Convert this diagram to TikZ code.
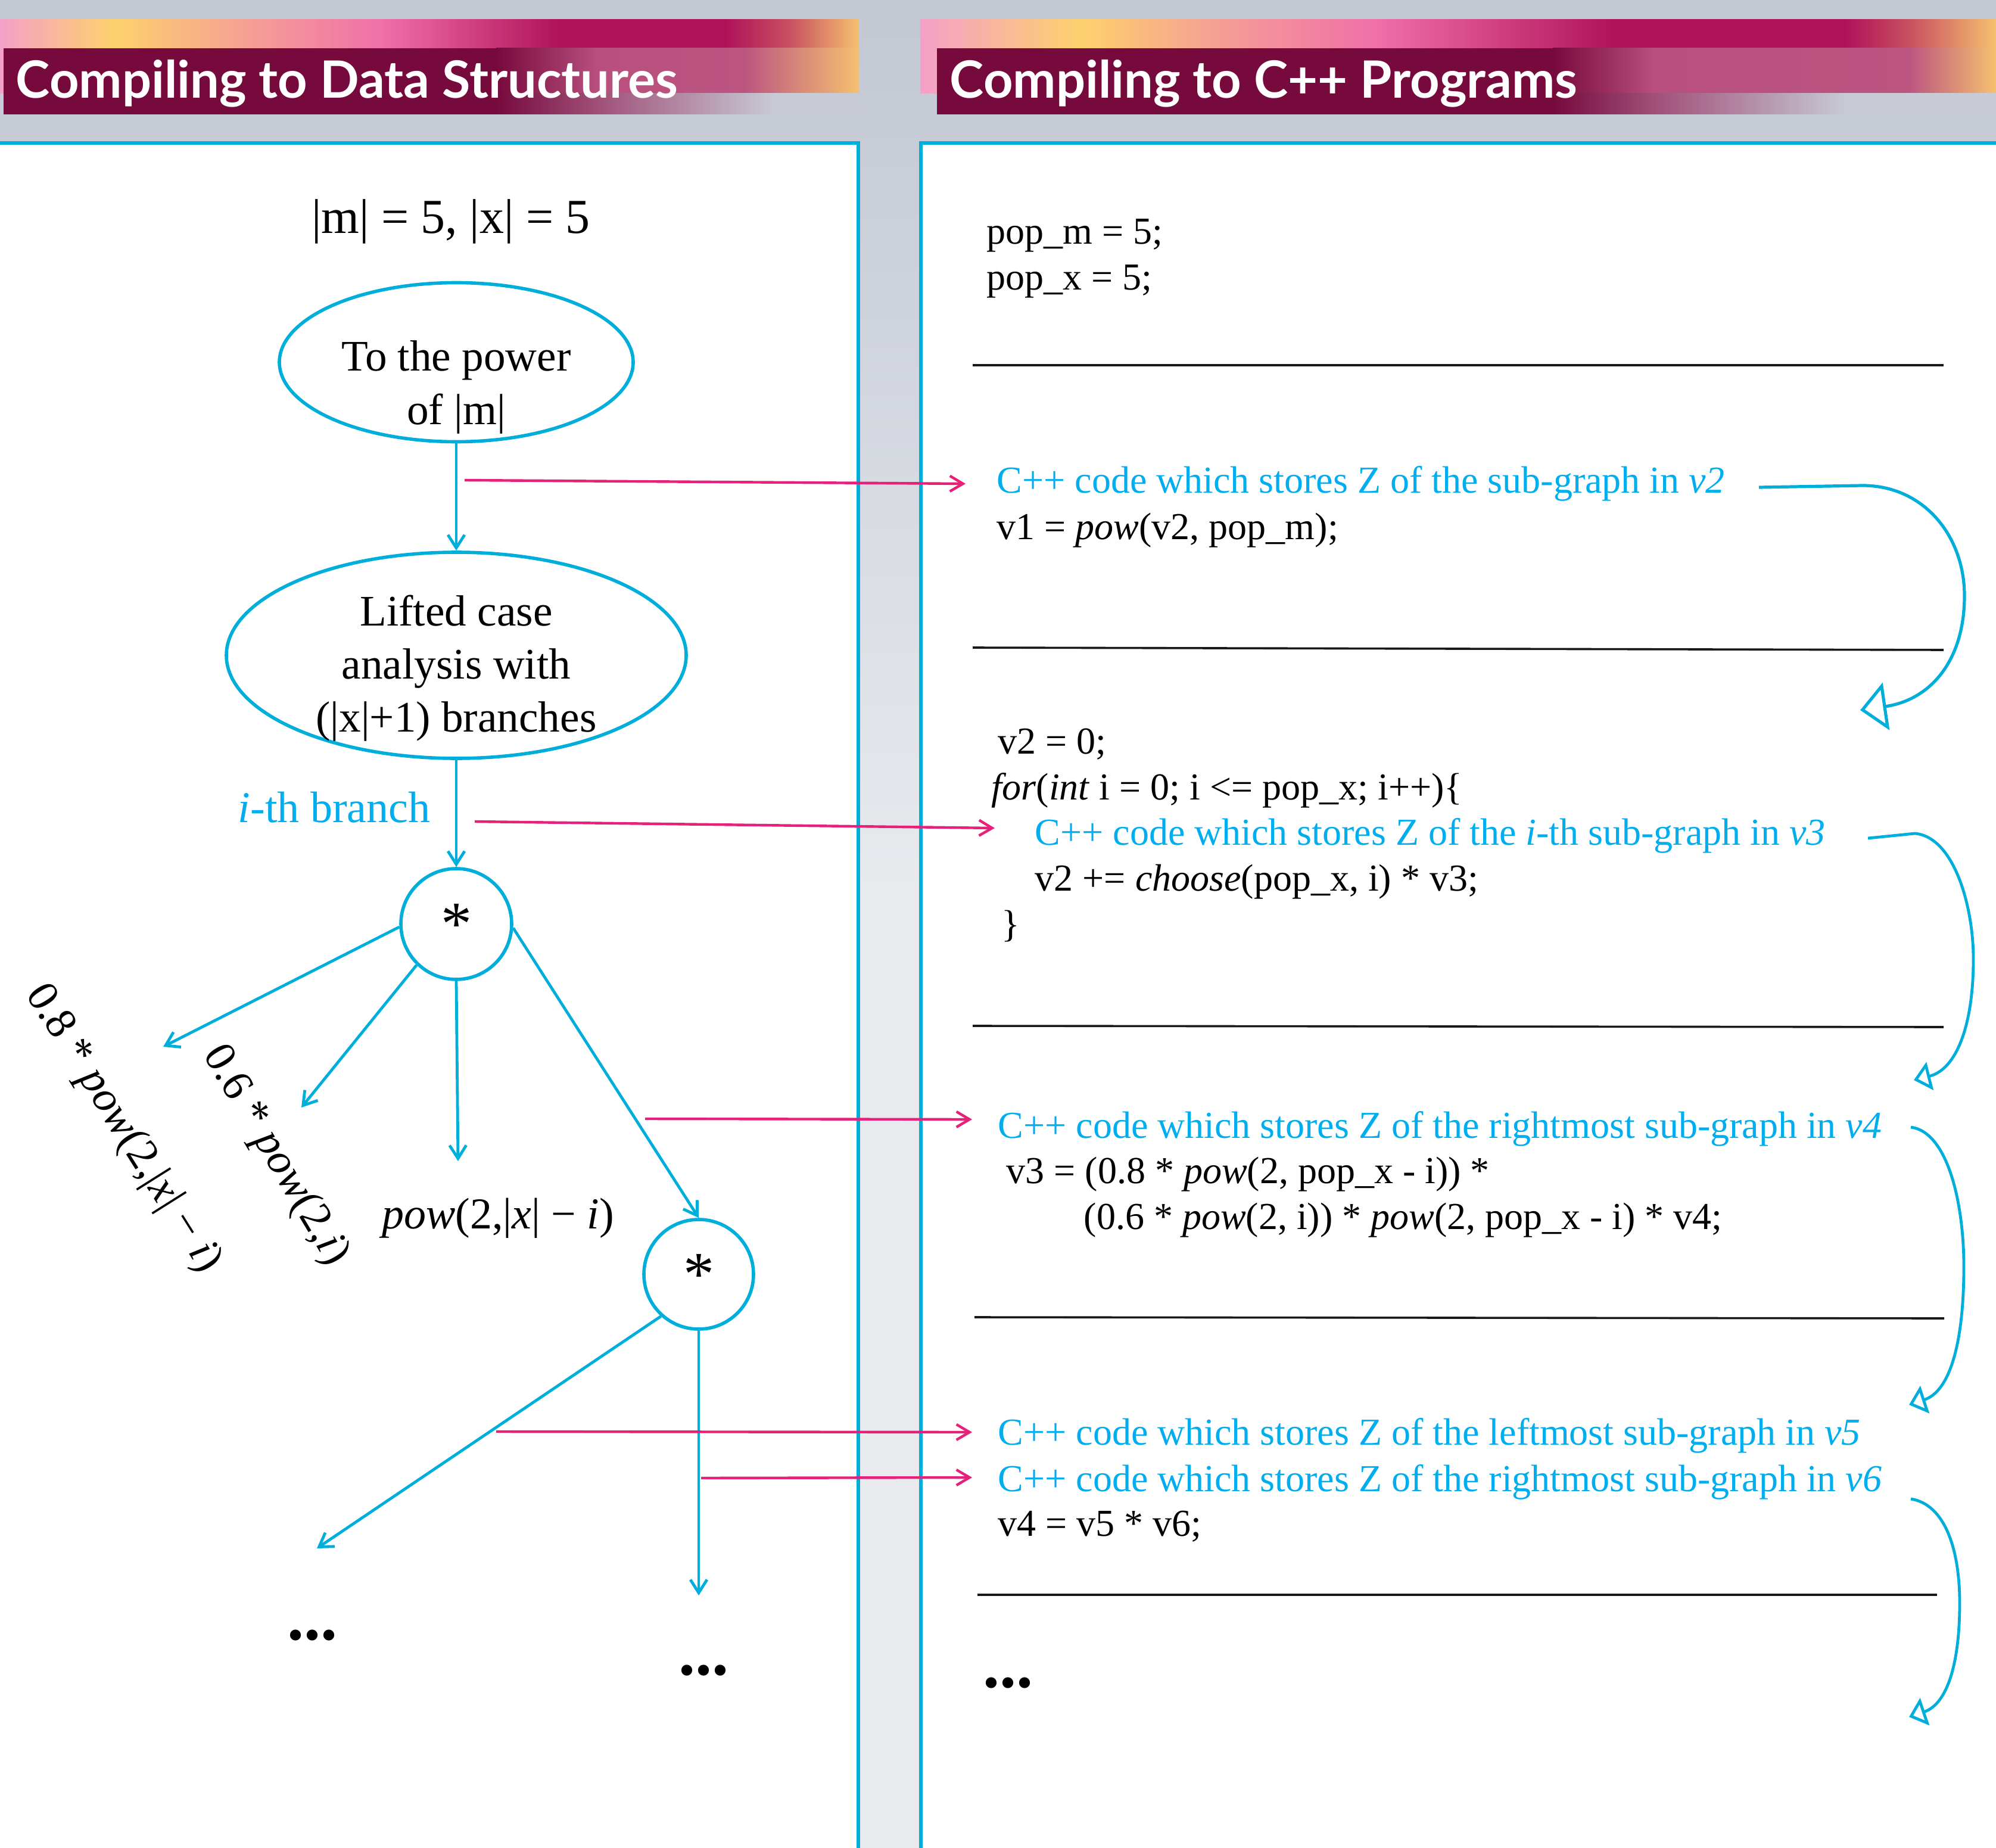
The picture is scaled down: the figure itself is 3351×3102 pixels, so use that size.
\documentclass[tikz,border=0pt]{standalone}
\usepackage{fontspec}
\setmainfont{Liberation Serif}
\newfontfamily\hdrfont{Lato}
\usetikzlibrary{arrows.meta,shapes.geometric}
\definecolor{lblue}{HTML}{00AEDB}
\definecolor{tblue}{HTML}{00AEEF}
\definecolor{pinkar}{HTML}{E6217A}
\definecolor{maroonb}{HTML}{760A3C}
\definecolor{bgtop}{HTML}{C2C7D2}
\definecolor{bgmid}{HTML}{E8EAEE}
\definecolor{spink}{HTML}{F4A0C8}
\definecolor{syellow}{HTML}{FDD16D}
\definecolor{ssalmon}{HTML}{F59D96}
\definecolor{shot}{HTML}{F070A8}
\definecolor{smag}{HTML}{B0125A}
\definecolor{sred}{HTML}{C85060}
\definecolor{sorange}{HTML}{F5C070}
\definecolor{mauve}{HTML}{B84F7E}
\definecolor{mauveb}{HTML}{BC5580}
\definecolor{mauvelow}{HTML}{A05078}
\definecolor{greyl}{HTML}{C8CAD6}
\newcommand\hseg[6]{\shade[left color=#5,right color=#6] (#1,#3) rectangle (#2,#4);}
\begin{document}
\begin{tikzpicture}[x=0.25pt,y=-0.25pt,
  blueline/.style={draw=lblue,line width=1.2pt},
  bluearrow/.style={blueline,-{Straight Barb[length=5.5pt,width=7pt]}},
  pinkarrow/.style={draw=pinkar,line width=1.1pt,-{Straight Barb[length=5.5pt,width=6.5pt]}},
  curvearrow/.style={draw=lblue,line width=1.2pt,-{Triangle[open,length=7pt,width=12pt]}},
  sepline/.style={draw=black!90,line width=0.9pt},
  code/.style={anchor=base west,inner sep=0pt,font=\fontsize{16}{19}\selectfont},
  bcode/.style={code,text=tblue},
  lefttext/.style={anchor=base,inner sep=0pt,font=\fontsize{18.3}{22}\selectfont},
  mathlab/.style={inner sep=0pt,font=\fontsize{18.5}{22}\selectfont},
  hdr/.style={anchor=base west,inner sep=0pt,text=white,font=\hdrfont\bfseries\fontsize{21.6}{26}\selectfont},
  dotstext/.style={anchor=base west,inner sep=0pt,font=\bfseries\fontsize{28}{30}\selectfont},
  opnode/.style={circle,draw=lblue,line width=1.4pt,inner sep=0pt,font=\fontsize{26}{30}\selectfont},
  ellnode/.style={ellipse,draw=lblue,line width=1.4pt,inner sep=0pt},
]
\useasboundingbox (0,0) rectangle (3351,3102);
% background
\shade[top color=bgtop,bottom color=bgmid] (0,0) rectangle (3351,1500);
\fill[bgmid] (0,1500) rectangle (3351,3102);
% panels
\fill[white] (0,238) rectangle (1441,3102);
\fill[white] (1546,238) rectangle (3351,3102);
\draw[lblue,line width=1.5pt] (0,240) -- (1441,240) -- (1441,3102);
\draw[lblue,line width=1.5pt] (3351,240) -- (1546,240) -- (1546,3102);
% left header strip
\hseg{0}{192}{33}{157}{spink}{syellow}
\hseg{192}{427}{33}{157}{syellow}{ssalmon}
\hseg{427}{641}{33}{157}{ssalmon}{shot}
\hseg{641}{940}{33}{157}{shot}{smag}
\hseg{940}{1218}{33}{157}{smag}{smag}
\hseg{1218}{1325}{33}{157}{smag}{sred}
\hseg{1325}{1442}{33}{157}{sred}{sorange}
% left header dark box
\fill[maroonb] (6,81) rectangle (834,192);
\hseg{833}{1004}{81}{157}{maroonb}{mauve}
\hseg{1003}{1250}{81}{157}{mauve}{mauveb}
\hseg{1249}{1442}{81}{157}{mauveb}{sorange}
\hseg{833}{1004}{157}{192}{maroonb}{mauvelow}
\hseg{1003}{1300}{157}{192}{mauvelow}{greyl}
\hseg{1299}{1442}{157}{192}{greyl}{greyl}
% right header strip
\hseg{1545}{1816}{33}{157}{spink}{syellow}
\hseg{1816}{2051}{33}{157}{syellow}{ssalmon}
\hseg{2051}{2308}{33}{157}{ssalmon}{shot}
\hseg{2308}{2714}{33}{157}{shot}{smag}
\hseg{2714}{3098}{33}{157}{smag}{smag}
\hseg{3098}{3205}{33}{157}{smag}{sred}
\hseg{3205}{3351}{33}{157}{sred}{sorange}
% right header dark box
\fill[maroonb] (1573,81) rectangle (2608,192);
\hseg{2607}{2778}{81}{157}{maroonb}{mauve}
\hseg{2777}{3205}{81}{157}{mauve}{mauveb}
\hseg{3204}{3351}{81}{157}{mauveb}{sorange}
\hseg{2607}{2778}{157}{192}{maroonb}{mauvelow}
\hseg{2777}{3100}{157}{192}{mauvelow}{greyl}
\hseg{3099}{3351}{157}{192}{greyl}{greyl}
% header titles
\node[hdr] (h1) at (26,165) {Compiling to Data Structures};
\node[hdr] (h2) at (1594,165) {Compiling to C++ Programs};

% ---------- left panel ----------
\node[anchor=base,inner sep=0pt,font=\fontsize{20.5}{24}\selectfont] (card) at (757,392) {|m| = 5, |x| = 5};
\node[ellnode,minimum width=148.5pt,minimum height=66.75pt] (e1) at (766,608) {};
\node[lefttext] (e1a) at (766,623) {To the power};
\node[lefttext] (e1b) at (766,713) {of |m|};
\node[ellnode,minimum width=193pt,minimum height=86.5pt] (e2) at (766,1100) {};
\node[lefttext] (e2a) at (766,1050) {Lifted case};
\node[lefttext] (e2b) at (766,1139) {analysis with};
\node[lefttext] (e2c) at (766,1228) {(|x|+1) branches};
\node[anchor=base west,inner sep=0pt,text=tblue,font=\fontsize{18.5}{22}\selectfont] (ith) at (399,1380) {\textit{i}-th branch};
\node[opnode,minimum size=46.5pt] (c1) at (766,1551) {*};
\node[opnode,minimum size=46pt] (c2) at (1173,2139) {*};
\coordinate (l1) at (274,1757);
\coordinate (l2) at (506,1859);
\coordinate (l3) at (769,1949);
\coordinate (l4) at (532,2599);
\coordinate (l5) at (1173,2678);
\node[mathlab,rotate=-57.8] (lab1) at (206,1895) {0.8 * \textit{pow}(2,|\textit{x}| − \textit{i})};
\node[mathlab,rotate=-59.2] (lab2) at (462,1940) {0.6 * \textit{pow}(2,\textit{i})};
\node[mathlab,anchor=base] (lab3) at (836,2062) {\textit{pow}(2,|\textit{x}| − \textit{i})};
\node[dotstext] (d1) at (482,2752) {...};
\node[dotstext] (d2) at (1139,2811) {...};
\draw[bluearrow] (e1.south) -- (e2.north);
\draw[bluearrow] (e2.south) -- (c1.north);
\draw[bluearrow] (c1.183) -- (l1);
\draw[bluearrow] (c1.226) -- (l2);
\draw[bluearrow] (c1.south) -- (l3);
\draw[bluearrow] (c1.356) -- (c2.north);
\draw[bluearrow] (c2.228) -- (l4);
\draw[bluearrow] (c2.south) -- (l5);

% ---------- right panel ----------
\node[code] (r1) at (1656,410) {pop\_m = 5;};
\node[code] (r2) at (1656,487) {pop\_x = 5;};
\draw[sepline] (1633,613) -- (3263,613);
\node[bcode] (b1) at (1673,828) {C++ code which stores Z of the sub-graph in \textit{v2}};
\node[code] (r3) at (1673,905) {v1 = \textit{pow}(v2, pop\_m);};
\draw[sepline] (1633,1087) -- (3263,1091);
\node[code] (r4) at (1675,1265) {v2 = 0;};
\node[code] (r5) at (1664,1342) {\textit{for}(\textit{int} i = 0; i <= pop\_x; i++)\{};
\node[bcode] (b2) at (1737,1418) {C++ code which stores Z of the \textit{i}-th sub-graph in \textit{v3}};
\node[code] (r6) at (1737,1495) {v2 += \textit{choose}(pop\_x, i) * v3;};
\node[code] (r7) at (1681,1572) {\}};
\draw[sepline] (1633,1722) -- (3263,1724);
\node[bcode] (b3) at (1675,1910) {C++ code which stores Z of the rightmost sub-graph in \textit{v4}};
\node[code] (r8) at (1689,1986) {v3 = (0.8 * \textit{pow}(2, pop\_x - i)) *};
\node[code] (r9) at (1819,2063) {(0.6 * \textit{pow}(2, i)) * \textit{pow}(2, pop\_x - i) * v4;};
\draw[sepline] (1636,2211) -- (3264,2213);
\node[bcode] (b4) at (1675,2425) {C++ code which stores Z of the leftmost sub-graph in \textit{v5}};
\node[bcode] (b5) at (1675,2503) {C++ code which stores Z of the rightmost sub-graph in \textit{v6}};
\node[code] (r10) at (1675,2578) {v4 = v5 * v6;};
\draw[sepline] (1641,2677) -- (3252,2677);
\node[dotstext] (d3) at (1650,2832) {...};

% pink arrows
\coordinate (p1s) at (780,806);  \coordinate (p1e) at (1621,812);
\coordinate (p2s) at (797,1379); \coordinate (p2e) at (1670,1390);
\coordinate (p3s) at (1083,1878); \coordinate (p3e) at (1632,1879);
\coordinate (p4s) at (833,2403); \coordinate (p4e) at (1632,2404);
\coordinate (p5s) at (1177,2481); \coordinate (p5e) at (1632,2480);
\draw[pinkarrow] (p1s) -- (p1e);
\draw[pinkarrow] (p2s) -- (p2e);
\draw[pinkarrow] (p3s) -- (p3e);
\draw[pinkarrow] (p4s) -- (p4e);
\draw[pinkarrow] (p5s) -- (p5e);

% curved blue arrows
\coordinate (k1s) at (2953,818); \coordinate (k1e) at (3123,1192);
\draw[curvearrow,line width=1.3pt,-{Triangle[open,length=11pt,width=20pt]}] (k1s) -- (3127,815) .. controls (3230,815) and (3298,900) .. (3298,1000) .. controls (3298,1110) and (3240,1175) .. (k1e);
\coordinate (k2s) at (3136,1407); \coordinate (k2e) at (3213,1813);
\draw[curvearrow] (k2s) -- (3215,1399) .. controls (3280,1405) and (3313,1520) .. (3313,1610) .. controls (3313,1720) and (3285,1795) .. (k2e);
\coordinate (k3s) at (3208,1892); \coordinate (k3e) at (3205,2358);
\draw[curvearrow] (k3s) .. controls (3270,1900) and (3297,2020) .. (3297,2126) .. controls (3297,2250) and (3275,2335) .. (k3e);
\coordinate (k4s) at (3208,2516); \coordinate (k4e) at (3205,2882);
\draw[curvearrow] (k4s) .. controls (3265,2525) and (3290,2600) .. (3290,2691) .. controls (3290,2790) and (3270,2860) .. (k4e);
\end{tikzpicture}
\end{document}
